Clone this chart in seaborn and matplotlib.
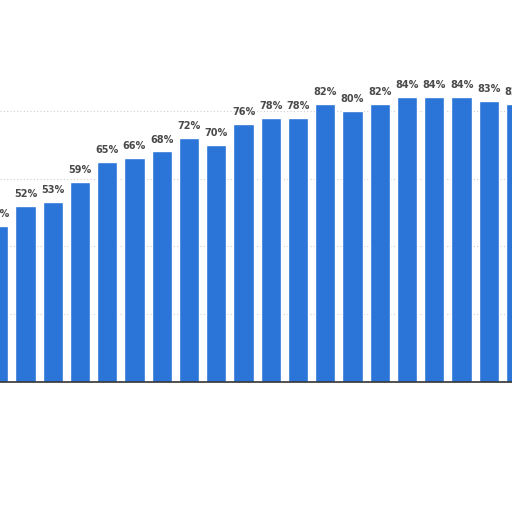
import matplotlib
matplotlib.use("Agg")
import matplotlib.pyplot as plt
import seaborn as sns
import pandas as pd

# =========================================
# DATA
# =========================================

positions = list(range(20))
shares = [46, 52, 53, 59, 65, 66, 68, 72, 70, 76,
          78, 78, 82, 80, 82, 84, 84, 84, 83, 82]
labels = [f"{v}%" for v in shares]

df = pd.DataFrame({"pos": positions, "share": shares})

# =========================================
# PLOT
# =========================================

sns.set_style("white")
plt.rcParams["font.family"] = ["DejaVu Sans"]

fig = plt.figure(figsize=(5.12, 5.12), dpi=100)
ax = fig.add_axes([0, 0.254, 1, 0.746])

sns.barplot(data=df, x="pos", y="share", color="#2b74d8",
            saturation=1, width=0.74, ax=ax)

# labels above bars
for bar, txt in zip(ax.patches, labels):
    ax.annotate(txt, (bar.get_x() + bar.get_width() / 2, bar.get_height()),
                xytext=(0, 5), textcoords="offset points",
                ha="center", va="bottom", fontsize=7, fontweight="bold",
                color="#4a4a4a", annotation_clip=False)

# dotted grid
for g in [20, 40, 60, 80]:
    ax.axhline(g, color="#cfcfcf", lw=0.8, ls=(0, (1, 2)), zorder=0)

ax.set_xlim(0.066, 18.85)
ax.set_ylim(0, 112.7)
ax.set_xticks([])
ax.set_yticks([])
ax.set_xlabel("")
ax.set_ylabel("")
sns.despine(ax=ax, left=True, right=True, top=True)
ax.spines["bottom"].set_color("#333333")
ax.spines["bottom"].set_linewidth(1.2)

fig.savefig("out.png", dpi=100)
